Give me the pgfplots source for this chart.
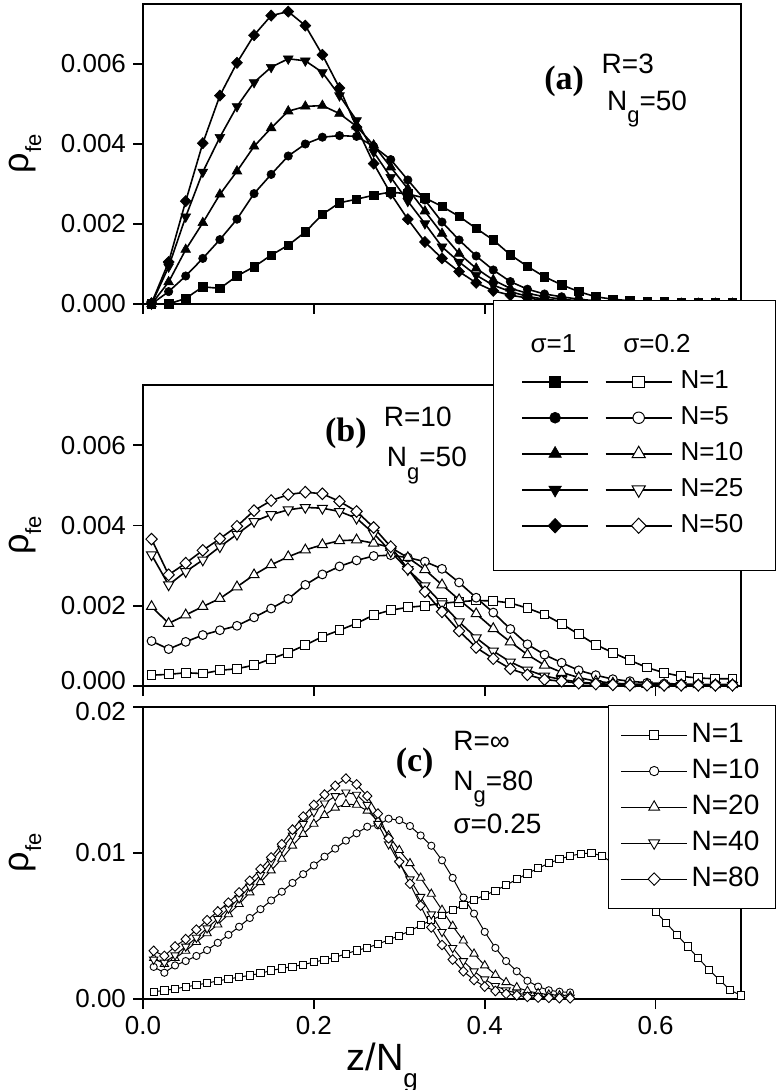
\documentclass[border=0pt]{standalone}
\usepackage{fontspec}
\setmainfont{Liberation Sans}
\newfontfamily\timesb{Liberation Serif}
\usepackage{pgfplots}
\pgfplotsset{compat=1.18}
\usepackage{pgfplotstable}

% panel (a): sigma=1, values in units of 1e-3
\pgfplotstableread{
x a b c d e
0.01 0.00 0.00 0.00 0.00 0.02
0.03 0.00 0.31 0.55 0.93 1.05
0.05 0.14 0.70 1.36 2.18 2.57
0.07 0.43 1.14 2.03 3.30 4.02
0.09 0.39 1.61 2.74 4.17 5.21
0.11 0.70 2.12 3.32 4.94 6.03
0.13 0.93 2.76 3.94 5.54 6.72
0.15 1.22 3.24 4.40 5.92 7.21
0.17 1.47 3.70 4.82 6.13 7.31
0.19 1.80 4.00 4.94 6.08 6.96
0.21 2.24 4.17 4.96 5.79 6.23
0.23 2.53 4.21 4.76 5.21 5.40
0.25 2.62 4.19 4.44 4.59 4.42
0.27 2.72 3.94 3.97 3.80 3.51
0.29 2.80 3.61 3.42 3.17 2.76
0.31 2.75 3.10 2.88 2.57 2.12
0.33 2.65 2.60 2.32 2.01 1.55
0.35 2.44 2.05 1.76 1.43 1.14
0.37 2.19 1.60 1.26 1.05 0.81
0.39 1.89 1.20 0.89 0.72 0.53
0.41 1.60 0.85 0.60 0.47 0.33
0.43 1.23 0.56 0.39 0.31 0.22
0.45 0.94 0.37 0.27 0.19 0.15
0.47 0.68 0.25 0.18 0.12 0.09
0.49 0.48 0.18 0.12 0.08 0.06
0.51 0.31 0.12 0.08 0.05 0.04
0.53 0.18 0.08 0.05 0.03 0.03
0.55 0.12 0.05 0.03 0.02 0.02
0.57 0.08 0.03 0.02 0.02 0.02
0.59 0.06 0.02 0.02 0.01 0.01
0.61 0.05 0.02 0.01 0.01 0.01
0.63 0.04 0.01 0.01 0.01 0.01
0.65 0.04 0.01 0.01 0.01 0.01
0.67 0.03 0.01 0.01 0.01 0.01
0.69 0.03 0.01 0.01 0.01 0.01
}\tabA

% panel (b): sigma=0.2
\pgfplotstableread{
x a b c d e
0.01 0.27 1.12 1.98 3.27 3.66
0.03 0.29 0.92 1.56 2.52 2.77
0.05 0.33 1.10 1.77 2.85 3.06
0.07 0.31 1.27 1.98 3.14 3.38
0.09 0.39 1.39 2.18 3.47 3.67
0.11 0.43 1.50 2.47 3.78 3.98
0.13 0.52 1.71 2.77 4.10 4.37
0.15 0.68 1.93 3.02 4.27 4.62
0.17 0.83 2.17 3.22 4.39 4.77
0.19 1.02 2.52 3.39 4.45 4.83
0.21 1.23 2.78 3.52 4.43 4.79
0.23 1.39 2.98 3.62 4.35 4.60
0.25 1.56 3.13 3.64 4.18 4.35
0.27 1.77 3.24 3.56 3.80 3.95
0.29 1.89 3.26 3.45 3.35 3.47
0.31 1.96 3.20 3.20 2.90 2.92
0.33 2.00 3.10 2.90 2.50 2.35
0.35 2.06 2.92 2.52 2.05 1.85
0.37 2.10 2.58 2.15 1.60 1.37
0.39 2.13 2.20 1.80 1.20 0.96
0.41 2.12 1.83 1.43 0.87 0.68
0.43 2.07 1.42 1.10 0.60 0.43
0.45 1.94 1.04 0.78 0.40 0.28
0.47 1.78 0.78 0.52 0.25 0.16
0.49 1.55 0.58 0.34 0.16 0.12
0.51 1.29 0.39 0.21 0.10 0.07
0.53 1.03 0.27 0.12 0.06 0.05
0.55 0.83 0.17 0.07 0.04 0.03
0.57 0.64 0.12 0.05 0.03 0.02
0.59 0.46 0.08 0.04 0.03 0.02
0.61 0.33 0.06 0.03 0.02 0.02
0.63 0.24 0.05 0.03 0.02 0.02
0.65 0.20 0.04 0.03 0.02 0.02
0.67 0.18 0.04 0.03 0.02 0.02
0.69 0.18 0.04 0.03 0.02 0.02
}\tabB

% panel (c): N=1
\pgfplotstableread{
x a
0.0125 0.51
0.025 0.58
0.0375 0.70
0.05 0.83
0.0625 0.96
0.075 1.09
0.0875 1.24
0.1 1.37
0.1125 1.50
0.125 1.62
0.1375 1.76
0.15 1.95
0.1625 2.10
0.175 2.22
0.1875 2.36
0.2 2.52
0.2125 2.70
0.225 2.85
0.2375 3.10
0.25 3.32
0.2625 3.52
0.275 3.76
0.2875 4.05
0.3 4.34
0.3125 4.67
0.325 5.05
0.3375 5.40
0.35 5.75
0.3625 6.10
0.375 6.45
0.3875 6.80
0.4 7.10
0.4125 7.42
0.425 7.80
0.4375 8.20
0.45 8.60
0.4625 8.95
0.475 9.30
0.4875 9.58
0.5 9.80
0.5125 9.95
0.525 10.00
0.5375 9.80
0.55 9.30
0.5625 8.60
0.575 7.80
0.5875 6.90
0.6 6.00
0.6125 5.20
0.625 4.40
0.6375 3.60
0.65 2.80
0.6625 2.00
0.675 1.30
0.6875 0.60
0.7 0.25
}\tabCa

% panel (c): N=10,20,40,80
\pgfplotstableread{
x b c d e
0.0125 2.2 2.8 2.7 3.3
0.025 1.8 2.4 2.5 2.95
0.0375 2.3 2.8 3.0 3.6
0.05 2.6 3.3 3.6 4.1
0.0625 2.95 3.9 4.2 4.75
0.075 3.35 4.5 4.85 5.4
0.0875 3.85 5.1 5.5 6.0
0.1 4.4 5.8 6.2 6.6
0.1125 4.95 6.5 6.9 7.3
0.125 5.55 7.3 7.7 8.1
0.1375 6.15 8.0 8.5 8.9
0.15 6.75 8.8 9.4 9.7
0.1625 7.35 9.6 10.3 10.6
0.175 7.95 10.5 11.2 11.6
0.1875 8.55 11.3 12.0 12.5
0.2 9.15 12.0 12.8 13.3
0.2125 9.75 12.6 13.4 14.0
0.225 10.3 13.1 13.9 14.6
0.2375 10.85 13.35 14.15 15.1
0.25 11.35 13.3 14.0 14.7
0.2625 11.8 12.9 13.3 13.9
0.275 11.9 12.2 12.0 12.7
0.2875 12.35 11.2 10.6 11.0
0.3 12.25 10.2 9.3 9.4
0.3125 11.85 9.3 8.2 7.9
0.325 11.2 8.3 7.0 6.4
0.3375 10.5 7.2 5.8 4.9
0.35 9.5 6.1 4.6 3.7
0.3625 8.3 5.0 3.5 2.7
0.375 6.95 4.0 2.6 1.9
0.3875 5.85 3.1 1.9 1.3
0.4 4.6 2.3 1.35 0.85
0.4125 3.5 1.65 0.9 0.55
0.425 2.6 1.15 0.6 0.35
0.4375 1.9 0.8 0.4 0.25
0.45 1.25 0.55 0.28 0.15
0.4625 0.85 0.4 0.2 0.1
0.475 0.6 0.3 0.15 0.08
0.4875 0.5 0.25 0.12 0.06
0.5 0.45 0.2 0.1 0.05
}\tabCb

\newcommand{\tfont}{\fontsize{14}{14}\selectfont}
\newcommand{\bfont}{\timesb\bfseries\fontsize{17}{17}\selectfont}
\newcommand{\Ng}[1]{N\raisebox{-0.45em}{\fontsize{11}{11}\selectfont g}=#1}

\pgfplotsset{
  panel/.style={
    scale only axis, width=299pt, xmin=0, xmax=0.7,
    axis line style={line width=0.8pt},
    tick align=outside, tick pos=left,
    major tick length=5pt,
    tick style={line width=0.8pt, black},
    xtick={0,0.2,0.4,0.6},
    tick label style={font=\fontsize{13}{13}\selectfont},
    yticklabel style={inner ysep=0pt},
    clip=false,
    ylabel={ρ\raisebox{-0.35em}{\fontsize{11}{11}\selectfont fe}},
    ylabel style={font=\fontsize{18}{18}\selectfont, at={(axis description cs:-0.197,0.5)}, anchor=center},
    legend cell align=left,
    legend image code/.code={\draw[mark repeat=2,mark phase=2,##1] plot coordinates {(0pt,0pt) (16.5pt,0pt) (33pt,0pt)};},
    legend image post style={every mark/.append style={scale=1.3}},
  },
  fA/.style={black, line width=0.8pt, mark=square*, mark size=2.1pt, mark options={solid,fill=black,line width=0.3pt}},
  fB/.style={black, line width=0.8pt, mark=*, mark size=2.1pt, mark options={solid,fill=black,line width=0.3pt}},
  fC/.style={black, line width=0.8pt, mark=triangle*, mark size=2.8pt, mark options={solid,fill=black,line width=0.3pt}},
  fD/.style={black, line width=0.8pt, mark=triangle*, mark size=2.8pt, mark options={solid,fill=black,line width=0.3pt,rotate=180}},
  fE/.style={black, line width=0.8pt, mark=diamond*, mark size=2.8pt, mark options={solid,fill=black,line width=0.3pt,xscale=1.3}},
  oA/.style={black, line width=0.8pt, mark=square*, mark size=2.2pt, mark options={solid,fill=white,line width=0.5pt}},
  oB/.style={black, line width=0.8pt, mark=*, mark size=2.2pt, mark options={solid,fill=white,line width=0.5pt}},
  oC/.style={black, line width=0.8pt, mark=triangle*, mark size=2.9pt, mark options={solid,fill=white,line width=0.5pt}},
  oD/.style={black, line width=0.8pt, mark=triangle*, mark size=2.9pt, mark options={solid,fill=white,line width=0.5pt,rotate=180}},
  oE/.style={black, line width=0.8pt, mark=diamond*, mark size=2.9pt, mark options={solid,fill=white,line width=0.5pt,xscale=1.3}},
  cA/.style={black, line width=0.5pt, mark=square*, mark size=1.8pt, mark options={solid,fill=white,line width=0.45pt}},
  cB/.style={black, line width=0.5pt, mark=*, mark size=1.8pt, mark options={solid,fill=white,line width=0.45pt}},
  cC/.style={black, line width=0.5pt, mark=triangle*, mark size=2.4pt, mark options={solid,fill=white,line width=0.45pt}},
  cD/.style={black, line width=0.5pt, mark=triangle*, mark size=2.4pt, mark options={solid,fill=white,line width=0.45pt,rotate=180}},
  cE/.style={black, line width=0.5pt, mark=diamond*, mark size=2.4pt, mark options={solid,fill=white,line width=0.45pt,xscale=1.3}},
}

\begin{document}
\begin{tikzpicture}
\useasboundingbox (0pt,0pt) rectangle (389.5pt,-545pt);

% ---------------- panel (a)
\begin{axis}[panel, at={(71.5pt,-152pt)}, anchor=south west, height=150pt,
  ymin=0, ymax=7.5, ytick={0,2,4,6}, yticklabels={0.000,0.002,0.004,0.006},
  xticklabels={}]
\addplot[fA] table[x=x,y=a]{\tabA};
\addplot[fB] table[x=x,y=b]{\tabA};
\addplot[fC] table[x=x,y=c]{\tabA};
\addplot[fD] table[x=x,y=d]{\tabA};
\addplot[fE] table[x=x,y=e]{\tabA};
\node[anchor=base, font=\bfont] at (axis cs:0.493,5.36) {(a)};
\node[anchor=base west, font=\tfont] at (axis cs:0.5287,5.76) {R=3};
\node[anchor=base west, font=\tfont] at (axis cs:0.5350,4.84) {\Ng{50}};
\end{axis}

% ---------------- panel (b)
\begin{axis}[panel, at={(71.5pt,-343pt)}, anchor=south west, height=150.5pt,
  ymin=0, ymax=7.5, ytick={2,4,6}, yticklabels={0.002,0.004,0.006},
  extra y ticks={0}, extra y tick labels={0.000},
  extra y tick style={yticklabel style={yshift=2.5pt}},
  xticklabels={},
  legend columns=2,
  legend style={at={(axis description cs:1.0585,1.282)}, anchor=north east,
    draw=black, line width=0.6pt, fill=white, font=\fontsize{13}{13}\selectfont,
    inner xsep=14pt, inner ysep=16pt, row sep=5pt, column sep=2pt,
    nodes={inner xsep=2pt, inner ysep=0pt, text height=10pt, text depth=3pt}}]
\addlegendimage{legend image code/.code={\node[overlay,anchor=west,inner sep=0pt] at (4pt,0pt) {σ=1};}}
\addlegendentry{}
\addlegendimage{legend image code/.code={\node[overlay,anchor=west,inner sep=0pt] at (8.5pt,0pt) {σ=0.2};}}
\addlegendentry{}
\addlegendimage{fA}\addlegendentry{}
\addplot[oA] table[x=x,y=a]{\tabB}; \addlegendentry{N=1}
\addlegendimage{fB}\addlegendentry{}
\addplot[oB] table[x=x,y=b]{\tabB}; \addlegendentry{N=5}
\addlegendimage{fC}\addlegendentry{}
\addplot[oC] table[x=x,y=c]{\tabB}; \addlegendentry{N=10}
\addlegendimage{fD}\addlegendentry{}
\addplot[oD] table[x=x,y=d]{\tabB}; \addlegendentry{N=25}
\addlegendimage{fE}\addlegendentry{}
\addplot[oE] table[x=x,y=e]{\tabB}; \addlegendentry{N=50}
\node[anchor=base, font=\bfont] at (axis cs:0.2374,6.10) {(b)};
\node[anchor=base west, font=\tfont] at (axis cs:0.2737,6.47) {R=10};
\node[anchor=base west, font=\tfont] at (axis cs:0.2772,5.47) {\Ng{50}};
\end{axis}

% ---------------- panel (c)
\begin{axis}[panel, at={(71.5pt,-499.5pt)}, anchor=south west, height=146pt,
  ymin=0, ymax=20, ytick={0,10}, yticklabels={0.00,0.01},
  extra y ticks={20}, extra y tick labels={0.02},
  extra y tick style={yticklabel style={yshift=-2.5pt}},
  xticklabels={0.0,0.2,0.4,0.6},
  xlabel={z/N\raisebox{-0.45em}{\fontsize{13}{13}\selectfont g}},
  xlabel style={font=\fontsize{19}{19}\selectfont, at={(axis description cs:0.40,-0.125)}, anchor=north},
  legend style={at={(axis description cs:1.0585,1.007)}, anchor=north east,
    draw=black, line width=0.6pt, fill=white, font=\fontsize{14}{14}\selectfont,
    inner xsep=6pt, inner ysep=8pt, row sep=4.5pt,
    nodes={inner xsep=2pt, inner ysep=0pt, text height=10.5pt, text depth=3pt}}]
\addplot[cA] table[x=x,y=a]{\tabCa}; \addlegendentry{N=1}
\addplot[cB] table[x=x,y=b]{\tabCb}; \addlegendentry{N=10}
\addplot[cC] table[x=x,y=c]{\tabCb}; \addlegendentry{N=20}
\addplot[cD] table[x=x,y=d]{\tabCb}; \addlegendentry{N=40}
\addplot[cE] table[x=x,y=e]{\tabCb}; \addlegendentry{N=80}
\node[anchor=base, font=\bfont] at (axis cs:0.318,15.6) {(c)};
\node[anchor=base west, font=\tfont] at (axis cs:0.355,17.05) {R=∞};
\node[anchor=base west, font=\tfont] at (axis cs:0.355,14.3) {\Ng{80}};
\node[anchor=base west, font=\tfont] at (axis cs:0.355,11.37) {σ=0.25};
\end{axis}
\end{tikzpicture}
\end{document}
